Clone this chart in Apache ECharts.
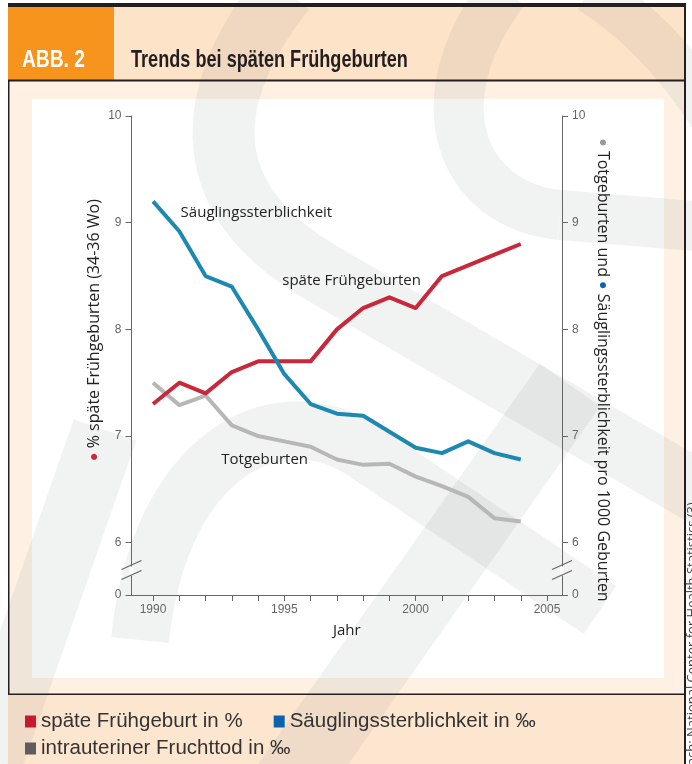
<!DOCTYPE html>
<html>
<head>
<meta charset="utf-8">
<script src="https://cdn.jsdelivr.net/npm/echarts@6/dist/echarts.min.js"></script>
<style>
  html, body { margin: 0; padding: 0; background: #fff; }
  #chart { width: 692px; height: 764px; }
</style>
</head>
<body>
<div id="chart"></div>
<script>
const years = [1990, 1991, 1992, 1993, 1994, 1995, 1996, 1997, 1998, 1999, 2000, 2001, 2002, 2003, 2004]
const fruehgeburten = [7.3, 7.5, 7.4, 7.6, 7.7, 7.7, 7.7, 8.0, 8.2, 8.3, 8.2, 8.5, 8.6, 8.7, 8.8]
const saeuglinge = [9.2, 8.92, 8.5, 8.4, 8.0, 7.58, 7.3, 7.21, 7.19, 7.04, 6.89, 6.84, 6.95, 6.84, 6.78]
const totgeburten = [7.5, 7.29, 7.38, 7.1, 7.0, 6.95, 6.9, 6.78, 6.73, 6.74, 6.62, 6.53, 6.43, 6.23, 6.2]

const seriesNames = ['späte Frühgeburt in %', 'Säuglingssterblichkeit in ‰', 'intrauteriner Fruchttod in ‰']
const yTicks = [5.51, 6, 7, 8, 9, 10]        // 5.51 = bottom of broken axis, shown as "0"
const xTicks = years.concat([2005])
const xLabels = [1990, 1995, 2000, 2005]

const ARIAL = "'Liberation Sans', Arial, sans-serif"
const SANS = "'Open Sans', 'Noto Sans', sans-serif"
const RED = '#c8283a', BLUE = '#1d89b0', GREY = '#b7b7b7'

const chart = echarts.init(document.getElementById('chart'), null, { renderer: 'canvas' })

function yAxisCfg(pos) {
  return {
    type: 'value', position: pos, min: 5.51, max: 10,
    axisLine: { show: true, lineStyle: { color: '#666', width: 1 } },
    axisTick: { show: true, length: 6, customValues: yTicks, lineStyle: { color: '#666' } },
    axisLabel: {
      customValues: yTicks, margin: 10, color: '#666', fontSize: 12, fontFamily: ARIAL,
      formatter: v => (v < 6 ? '0' : String(v))
    },
    splitLine: { show: false }
  }
}

// watermark: rough logo strokes in the background
const WM = 'rgba(100,112,112,0.09)'
function wmCurve(p, w) {
  return {
    type: 'bezierCurve', z: -10, silent: true,
    shape: { x1: p[0], y1: p[1], cpx1: p[2], cpy1: p[3], cpx2: p[4], cpy2: p[5], x2: p[6], y2: p[7] },
    style: { fill: null, stroke: WM, lineWidth: w }
  }
}
function wmLine(p, w) {
  return {
    type: 'line', z: -10, silent: true,
    shape: { x1: p[0], y1: p[1], x2: p[2], y2: p[3] },
    style: { stroke: WM, lineWidth: w }
  }
}
const watermark = [
  wmCurve([285, -10, 205, 90, 190, 195, 320, 272], 62), wmLine([320, 272, 720, 505], 62),
  wmCurve([505, -10, 420, 100, 460, 205, 560, 215], 50), wmLine([560, 215, 720, 228], 50),
  wmCurve([590, -10, 630, 15, 680, 60, 720, 130], 46),
  wmCurve([140, 640, 160, 450, 280, 395, 365, 452], 58), wmLine([365, 452, 600, 610], 58),
  wmLine([-10, 760, 105, 430], 66),
  wmLine([285, 790, 570, 385], 74)
]

const option = {
  animation: false,
  backgroundColor: '#fff',
  grid: { left: 131.5, right: 130, top: 116, bottom: 169 },
  xAxis: {
    type: 'value', min: 1989.18, max: 2005.57,
    name: 'Jahr', nameLocation: 'middle', nameGap: 28,
    nameTextStyle: { color: '#222', fontSize: 15, fontFamily: SANS },
    axisLine: { lineStyle: { color: '#666', width: 1 } },
    axisTick: { show: true, length: 6, customValues: xTicks, lineStyle: { color: '#666' } },
    axisLabel: {
      customValues: xLabels, margin: 9, color: '#666', fontSize: 12, fontFamily: ARIAL,
      formatter: v => String(v)
    },
    splitLine: { show: false }
  },
  yAxis: [yAxisCfg('left'), yAxisCfg('right')],
  legend: [
    {
      left: 25, top: 711, padding: 0, icon: 'rect', itemWidth: 11, itemHeight: 12, itemGap: 31,
      selectedMode: false,
      textStyle: { fontFamily: ARIAL, fontSize: 20.5, color: '#333' },
      data: [
        { name: seriesNames[0], itemStyle: { color: '#c41b31' } },
        { name: seriesNames[1], itemStyle: { color: '#0b62ae' } }
      ]
    },
    {
      left: 25, top: 738, padding: 0, icon: 'rect', itemWidth: 11, itemHeight: 12,
      selectedMode: false,
      textStyle: { fontFamily: ARIAL, fontSize: 20.5, color: '#333' },
      data: [{ name: seriesNames[2], itemStyle: { color: '#5d5d5d' } }]
    }
  ],
  series: [
    {
      name: seriesNames[2], type: 'line', symbol: 'none',
      data: years.map((y, i) => [y, totgeburten[i]]),
      lineStyle: { color: GREY, width: 4, join: 'round' }, itemStyle: { color: GREY },
      markPoint: annot('Totgeburten', 1992.6, 6.78)
    },
    {
      name: seriesNames[0], type: 'line', symbol: 'none',
      data: years.map((y, i) => [y, fruehgeburten[i]]),
      lineStyle: { color: RED, width: 4, join: 'round' }, itemStyle: { color: RED },
      markPoint: annot('späte Frühgeburten', 1994.92, 8.46)
    },
    {
      name: seriesNames[1], type: 'line', symbol: 'none',
      data: years.map((y, i) => [y, saeuglinge[i]]),
      lineStyle: { color: BLUE, width: 4, join: 'round' }, itemStyle: { color: BLUE },
      markPoint: annot('Säuglingssterblichkeit', 1991.05, 9.09)
    }
  ],
  graphic: { elements: buildBackground() }
}

function annot(text, x, y) {
  return {
    silent: true, symbol: 'circle', symbolSize: 0,
    itemStyle: { color: 'rgba(0,0,0,0)' },
    label: {
      show: true, position: 'right', distance: 0, formatter: text,
      color: '#222', fontSize: 15, fontFamily: SANS
    },
    data: [{ coord: [x, y] }]
  }
}

function buildBackground() {
  const rect = (x, y, w, h, fill, z) => ({ type: 'rect', z: z, silent: true, shape: { x, y, width: w, height: h }, style: { fill } })
  return [
    rect(8, 80, 676, 614, '#fef1e4', -20),
    rect(8, 694, 676, 70, '#fde6d0', -20),
    rect(114, 6, 570, 74, '#fde3c7', -20),
    rect(32, 99, 632, 579, '#ffffff', -19),
    ...watermark,
    rect(8, 6, 106, 74, '#f7941e', -5),
    rect(8, 3, 678, 4, '#231f20', -4),
    rect(8, 79.5, 677, 2, '#231f20', -4),
    rect(684, 3, 2, 761, '#231f20', -4),
    rect(8, 80, 1.5, 614, '#231f20', -4),
    rect(8, 693.5, 677, 1.5, '#231f20', -4),
    // condensed header type: squeeze horizontally
    {
      type: 'text', x: 22, y: 60, z: 5, silent: true, scaleX: 0.8,
      style: { text: 'ABB. 2', fill: '#fff', fontSize: 24, fontWeight: 'bold', fontFamily: ARIAL, verticalAlign: 'middle' }
    },
    {
      type: 'text', x: 131, y: 60, z: 5, silent: true, scaleX: 0.755,
      style: { text: 'Trends bei späten Frühgeburten', fill: '#231f20', fontSize: 24, fontWeight: 'bold', fontFamily: ARIAL, verticalAlign: 'middle' }
    },
    {
      type: 'text', x: 94, y: 330, rotation: Math.PI / 2, z: 5, silent: true,
      style: {
        text: '{r|●} % späte Frühgeburten (34-36 Wo)', fill: '#222', fontSize: 16, fontFamily: SANS,
        align: 'center', verticalAlign: 'middle',
        rich: { r: { fill: RED, color: RED, fontSize: 14 } }
      }
    },
    {
      type: 'text', x: 603, y: 370, rotation: -Math.PI / 2, z: 5, silent: true,
      style: {
        text: '{g|●} Totgeburten und {b|●} Säuglingssterblichkeit pro 1000 Geburten', fill: '#222', fontSize: 16, fontFamily: SANS,
        align: 'center', verticalAlign: 'middle',
        rich: { g: { fill: '#999', color: '#999', fontSize: 14 }, b: { fill: '#0b62ae', color: '#0b62ae', fontSize: 14 } }
      }
    },
    {
      type: 'text', x: 692, y: 775, rotation: Math.PI / 2, z: 5, silent: true,
      style: { text: 'Nach: National Center for Health Statistics (3)', fill: '#444', fontSize: 13, fontFamily: SANS, verticalAlign: 'middle' }
    }
  ]
}

chart.setOption(option)

// axis break marks "//" on both value axes
function breakMarks() {
  const [lx, by] = chart.convertToPixel({ xAxisIndex: 0, yAxisIndex: 0 }, [1989.18, 5.74])
  const [rx] = chart.convertToPixel({ xAxisIndex: 0, yAxisIndex: 0 }, [2005.57, 5.74])
  const els = []
  ;[lx, rx].forEach((ax, k) => {
    els.push({ type: 'rect', id: 'gap' + k, z: 6, silent: true, shape: { x: ax - 2, y: by - 4, width: 4, height: 9 }, style: { fill: '#fff' } })
    ;[-5, 5].forEach((d, j) => {
      els.push({
        type: 'line', id: 'brk' + k + j, z: 7, silent: true,
        shape: { x1: ax - 10, y1: by + d + 4, x2: ax + 10, y2: by + d - 5 },
        style: { stroke: '#666', lineWidth: 1.2 }
      })
    })
  })
  chart.setOption({ graphic: { elements: els } })
}
breakMarks()
</script>
</body>
</html>
